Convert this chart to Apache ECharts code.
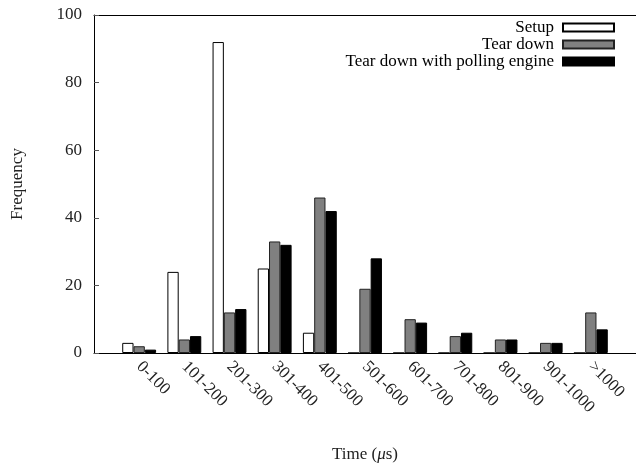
<!DOCTYPE html>
<html>
<head>
<meta charset="utf-8">
<script src="https://cdn.jsdelivr.net/npm/echarts@6/dist/echarts.min.js"></script>
<style>html,body{margin:0;padding:0;background:#fff;}#c{width:636px;height:464px;}</style>
</head>
<body>
<div id="c"></div>
<script>
const categories = ['0-100','101-200','201-300','301-400','401-500','501-600','601-700','701-800','801-900','901-1000','>1000'];
const setup = [3, 24, 92, 25, 6, 0, 0, 0, 0, 0, 0];
const tearDown = [2, 4, 12, 33, 46, 19, 10, 5, 4, 3, 12];
const tearDownPolling = [1, 5, 13, 32, 42, 28, 9, 6, 4, 3, 7];
const yTicks = [0, 20, 40, 60, 80, 100];

// pad one empty slot at each end (x range from -1 to 11)
const axisCats = [''].concat(categories, ['']);
const pad = arr => ['-'].concat(arr, ['-']);

const FONT = 'Liberation Serif';
const chart = echarts.init(document.getElementById('c'), null, {renderer: 'canvas'});
const barCommon = {
  type: 'bar', barGap: '0%', barCategoryGap: '25%'
};
chart.setOption({
  animation: false,
  backgroundColor: '#fff',
  textStyle: {fontFamily: FONT},
  grid: {left: 94, right: 0, top: 15, bottom: 111, containLabel: false, outerBoundsMode: 'none'},
  legend: {
    orient: 'vertical', align: 'right', right: 21, top: 19, padding: 0,
    itemWidth: 51, itemHeight: 8, itemGap: 0,
    icon: 'rect',
    textStyle: {fontFamily: FONT, fontSize: 17, lineHeight: 17, color: '#000', padding: [0, 4, 0, 0]},
    data: ['Setup', 'Tear down', 'Tear down with polling engine']
  },
  xAxis: [{
    type: 'category', data: axisCats, boundaryGap: false,
    axisLine: {show: true, lineStyle: {color: '#000', width: 1}},
    axisTick: {show: false},
    axisLabel: {rotate: -45, interval: 0, margin: 11, fontFamily: FONT, fontSize: 17, color: '#222'},
    splitLine: {show: false},
    name: 'Time ({i|μ}s)', nameLocation: 'middle', nameGap: 93,
    nameTextStyle: {fontFamily: FONT, fontSize: 17, color: '#222',
      rich: {i: {fontFamily: FONT, fontStyle: 'italic', fontSize: 17, color: '#222'}}}
  }, {
    type: 'category', data: axisCats, boundaryGap: false, position: 'top',
    axisLine: {show: true, lineStyle: {color: '#000', width: 1}},
    axisTick: {show: false}, axisLabel: {show: false}, splitLine: {show: false}
  }],
  yAxis: {
    type: 'value', min: yTicks[0], max: yTicks[yTicks.length - 1], interval: 20,
    axisLine: {show: true, lineStyle: {color: '#000', width: 1}},
    axisTick: {show: true, inside: true, length: 5, lineStyle: {color: '#555'}},
    axisLabel: {margin: 12, fontFamily: FONT, fontSize: 17, color: '#222'},
    splitLine: {show: false},
    name: 'Frequency', nameLocation: 'middle', nameGap: 68, nameRotate: 90,
    nameTextStyle: {fontFamily: FONT, fontSize: 17, color: '#222'}
  },
  series: [
    Object.assign({}, barCommon, {name: 'Setup', data: pad(setup),
      itemStyle: {color: '#fff', borderColor: '#000', borderWidth: 1}}),
    Object.assign({}, barCommon, {name: 'Tear down', data: pad(tearDown),
      itemStyle: {color: '#808080', borderColor: '#222', borderWidth: 1}}),
    Object.assign({}, barCommon, {name: 'Tear down with polling engine', data: pad(tearDownPolling),
      itemStyle: {color: '#000', borderColor: '#000', borderWidth: 1}})
  ]
});
</script>
</body>
</html>
